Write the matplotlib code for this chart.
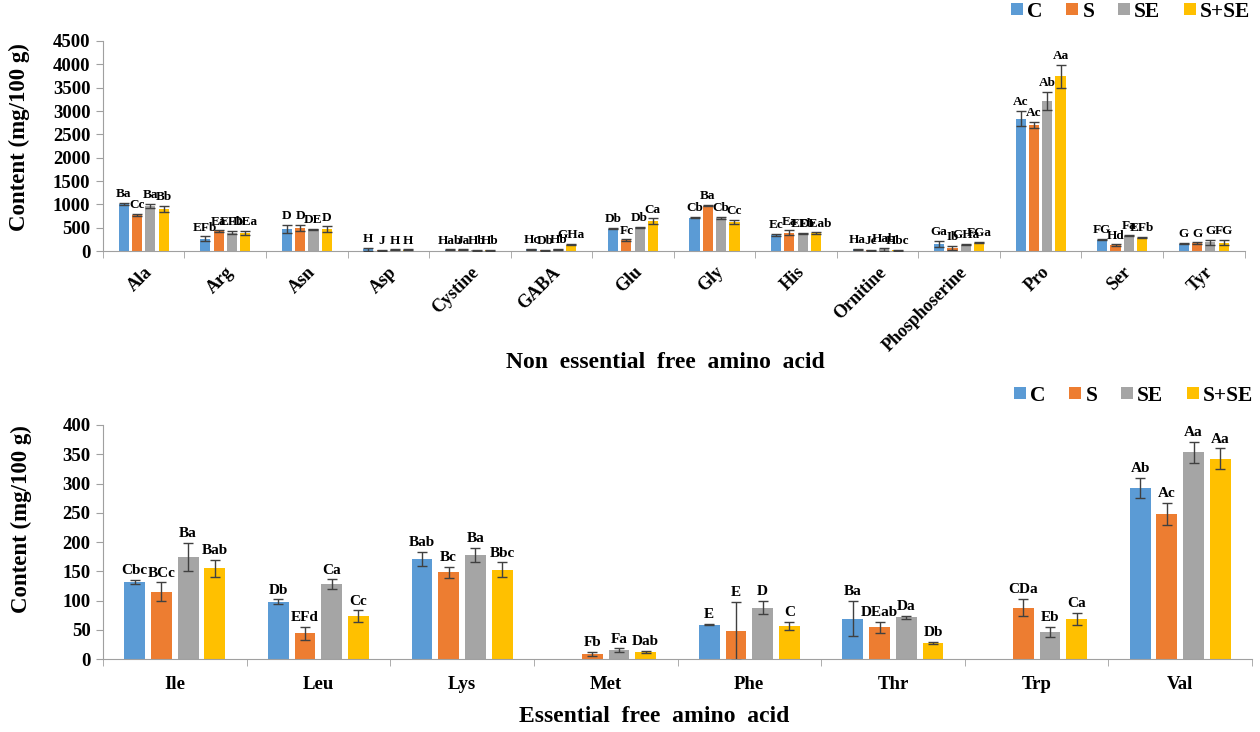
import numpy as np
import matplotlib
matplotlib.use('Agg')
import matplotlib.pyplot as plt

plt.rcParams['font.family'] = ['Liberation Serif', 'DejaVu Serif']
plt.rcParams['font.weight'] = 'bold'

groups = ['C', 'S', 'SE', 'S+SE']
colors = ['#5B9BD5', '#ED7D31', '#A5A5A5', '#FFC000']

# non essential free amino acids (mg/100 g)
ne_names = ['Ala', 'Arg', 'Asn', 'Asp', 'Cystine', 'GABA', 'Glu', 'Gly', 'His',
            'Ornitine', 'Phosphoserine', 'Pro', 'Ser', 'Tyr']
ne_C = [1005, 265, 475, 35, 25, 40, 480, 715, 345, 40, 155, 2835, 245, 160]
ne_S = [775, 425, 500, 15, 25, 15, 235, 970, 395, 15, 72, 2700, 130, 165]
ne_SE = [970, 395, 465, 25, 15, 40, 505, 710, 380, 35, 137, 3215, 330, 185]
ne_SSE = [900, 390, 470, 25, 15, 140, 645, 630, 385, 15, 180, 3745, 290, 180]
ne_C_err = [20, 50, 90, 30, 10, 10, 15, 15, 15, 10, 60, 165, 15, 15]
ne_S_err = [15, 20, 60, 10, 10, 10, 15, 15, 50, 10, 45, 65, 15, 20]
ne_SE_err = [45, 35, 15, 10, 10, 10, 15, 15, 15, 30, 15, 190, 10, 60]
ne_SSE_err = [70, 35, 60, 10, 10, 15, 55, 45, 15, 10, 15, 245, 15, 60]
ne_lab_C = ['Ba', 'EFb', 'D', 'H', 'Hab', 'Hc', 'Db', 'Cb', 'Ec', 'Ha', 'Ga', 'Ac', 'FG', 'G']
ne_lab_S = ['Cc', 'Ea', 'D', 'J', 'Ja', 'Db', 'Fc', 'Ba', 'Ea', 'Jc', 'Ib', 'Ac', 'Hd', 'G']
ne_lab_SE = ['Ba', 'EFb', 'DE', 'H', 'Hb', 'Hb', 'Db', 'Cb', 'EFb', 'Hab', 'GHa', 'Ab', 'Fa', 'G']
ne_lab_SSE = ['Bb', 'DEa', 'D', 'H', 'Hb', 'GHa', 'Ca', 'Cc', 'DEab', 'Hbc', 'FGa', 'Aa', 'EFb', 'FG']

# essential free amino acids (mg/100 g)
e_names = ['Ile', 'Leu', 'Lys', 'Met', 'Phe', 'Thr', 'Trp', 'Val']
e_C = [132, 98, 171, 0, 59, 69, 0, 292]
e_S = [115, 44, 148, 9, 48, 54, 88, 248]
e_SE = [175, 128, 178, 15, 88, 71, 46, 353]
e_SSE = [155, 73, 153, 12, 56, 27, 69, 342]
e_C_err = [3, 4, 12, 0, 1, 30, 0, 17]
e_S_err = [16, 11, 9, 3, 50, 10, 15, 19]
e_SE_err = [24, 8, 12, 3, 11, 3, 9, 18]
e_SSE_err = [14, 10, 12, 2, 7, 2, 10, 18]
e_lab_C = ['Cbc', 'Db', 'Bab', '', 'E', 'Ba', '', 'Ab']
e_lab_S = ['BCc', 'EFd', 'Bc', 'Fb', 'E', 'DEab', 'CDa', 'Ac']
e_lab_SE = ['Ba', 'Ca', 'Ba', 'Fa', 'D', 'Da', 'Eb', 'Aa']
e_lab_SSE = ['Bab', 'Cc', 'Bbc', 'Dab', 'C', 'Db', 'Ca', 'Aa']


def draw_panel(ax, names, vals, errs, labels, step, width, ymax, ystep,
               lab_size, rot, xtitle, xtitle_size, leg_x):
    x = np.arange(len(names))
    for i in range(4):
        pos = x + (i - 1.5) * step
        v = np.array(vals[i], dtype=float)
        e = np.array(errs[i], dtype=float)
        ax.bar(pos, v, width, color=colors[i], label=groups[i], zorder=2)
        show = v > 0
        ax.errorbar(pos[show], v[show], yerr=e[show], fmt='none',
                    ecolor='#404040', elinewidth=1, capsize=3.5, capthick=1, zorder=3)
        for p, val, er, t in zip(pos, v, e, labels[i]):
            if val <= 0 or not t:
                continue
            ax.annotate(t, (p, val + er), xytext=(0, 2), textcoords='offset points',
                        ha='center', va='bottom', fontsize=lab_size,
                        fontweight='bold', zorder=4)
    ax.set_xlim(-0.5, len(names) - 0.5)
    ax.set_ylim(0, ymax)
    ax.set_yticks(np.arange(0, ymax + 1, ystep))
    ax.set_xticks(x)
    if rot:
        ax.set_xticklabels(names, rotation=45, ha='right', va='top',
                           rotation_mode='anchor', fontsize=13, fontweight='bold')
        ax.tick_params(axis='x', which='major', length=0, pad=9)
    else:
        ax.set_xticklabels(names, fontsize=13.5, fontweight='bold')
        ax.tick_params(axis='x', which='major', length=0, pad=12)
    ax.set_xticks(np.arange(-0.5, len(names)), minor=True)
    ax.tick_params(axis='x', which='minor', length=5, color='#A0A0A0', direction='out')
    ax.tick_params(axis='y', length=5, color='#A0A0A0', labelsize=13.5, pad=4)
    for t in ax.get_yticklabels():
        t.set_fontweight('bold')
    for s in ['top', 'right']:
        ax.spines[s].set_visible(False)
    for s in ['left', 'bottom']:
        ax.spines[s].set_color('#A0A0A0')
    ax.set_ylabel('Content (mg/100 g)', fontsize=16.5, fontweight='bold')
    ax.set_xlabel(xtitle, fontsize=xtitle_size, fontweight='bold')
    ax.legend(loc='lower right', bbox_to_anchor=(leg_x, 1.0), ncol=4, frameon=False,
              handlelength=0.55, handleheight=0.55, handletextpad=0.2,
              columnspacing=1.1, prop={'size': 15.5, 'weight': 'bold'})


fig = plt.figure(figsize=(12.6, 7.32), dpi=100)
ax1 = fig.add_axes([0.0817, 0.657, 0.906, 0.287])
ax2 = fig.add_axes([0.0817, 0.0997, 0.912, 0.3197])

draw_panel(ax1, ne_names, [ne_C, ne_S, ne_SE, ne_SSE],
           [ne_C_err, ne_S_err, ne_SE_err, ne_SSE_err],
           [ne_lab_C, ne_lab_S, ne_lab_SE, ne_lab_SSE],
           0.163, 0.125, 4500, 500, 9.5, True,
           'Non  essential  free  amino  acid', 17, 1.022)
draw_panel(ax2, e_names, [e_C, e_S, e_SE, e_SSE],
           [e_C_err, e_S_err, e_SE_err, e_SSE_err],
           [e_lab_C, e_lab_S, e_lab_SE, e_lab_SSE],
           0.186, 0.145, 400, 50, 11, False,
           'Essential  free  amino  acid', 17, 1.018)

ax1.xaxis.set_label_coords(0.493, -0.48)
ax2.xaxis.set_label_coords(0.48, -0.2)
ax1.yaxis.set_label_coords(-0.064, 0.543)
ax2.yaxis.set_label_coords(-0.062, 0.6)

fig.savefig('out.png', dpi=100)
